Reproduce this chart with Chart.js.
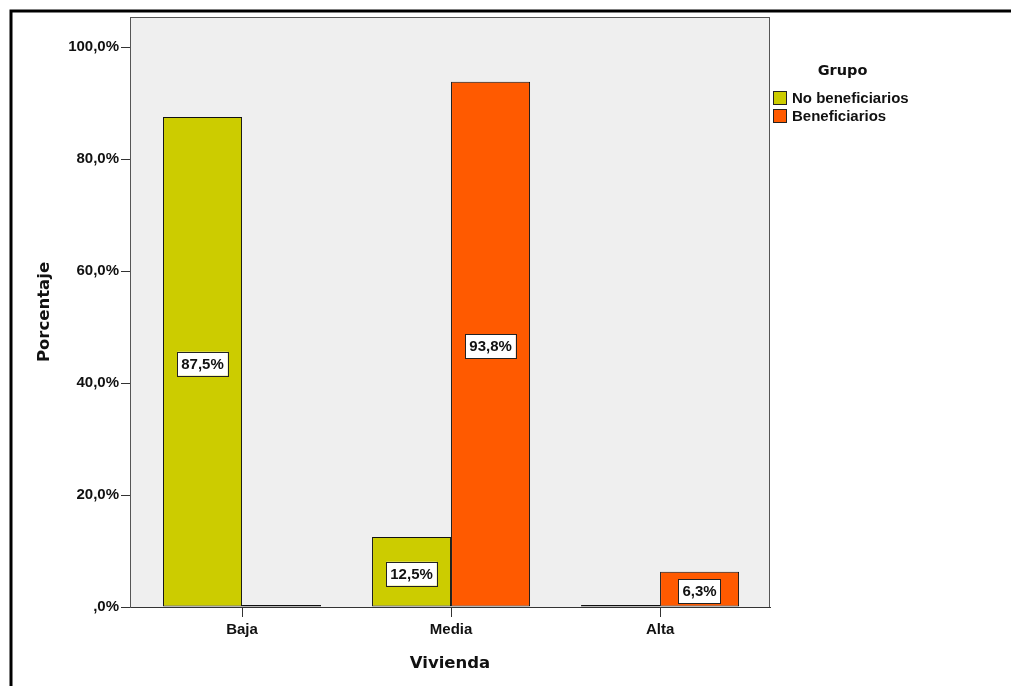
<!DOCTYPE html>
<html>
<head>
<meta charset="utf-8">
<script src="https://cdn.jsdelivr.net/npm/chart.js@4.4.0/dist/chart.umd.min.js"></script>
<style>
  html, body { margin: 0; padding: 0; background: #fff; }
  #wrap { position: relative; width: 1011px; height: 686px; }
  #legend { position: absolute; left: 773px; top: 58px; color: #111; }
  #legend .title { position: absolute; left: 42px; top: 0; width: 55px; text-align: center;
    font: bold 14.5px 'DejaVu Sans', sans-serif; line-height: 24px; }
  #legend .item { position: absolute; left: 0; white-space: nowrap;
    font: bold 15px 'Liberation Sans', Arial, sans-serif; line-height: 17px; }
  #legend .sw { display: inline-block; width: 12px; height: 12px; border: 1px solid #222;
    vertical-align: -2px; margin-right: 5px; }
</style>
</head>
<body>
<div id="wrap">
  <canvas id="chart" width="1011" height="686"></canvas>
  <div id="legend"></div>
</div>
<script>
//------------------ Data ------------------//
const categories = ['Baja', 'Media', 'Alta'];
const seriesNames = ['No beneficiarios', 'Beneficiarios'];
const noBeneficiarios = [87.5, 12.5, 0];
const beneficiarios = [0, 93.8, 6.3];
const yTicks = [0, 20, 40, 60, 80, 100];
const seriesColors = ['#cccc00', '#ff5a00'];

// SPSS style percent label: ",0%" / "87,5%"
function pct(v) {
  if (v === 0) return ',0%';
  return v.toFixed(1).replace('.', ',') + '%';
}

//------------------ Legend ------------------//
const legendDiv = document.getElementById('legend');
legendDiv.innerHTML = '<div class="title">Grupo</div>' + seriesNames.map((name, i) =>
  `<div class="item" style="top:${31 + i * 18}px"><span class="sw" style="background:${seriesColors[i]}"></span>${name}</div>`
).join('');

//------------------ Plugins ------------------//
const frame = {
  id: 'frame',
  beforeDraw(chart) {
    const ctx = chart.ctx;
    const a = chart.chartArea;
    ctx.save();
    ctx.fillStyle = '#fff';
    ctx.fillRect(0, 0, chart.width, chart.height);
    // outer black border (top + left only visible)
    ctx.strokeStyle = '#000';
    ctx.lineWidth = 3;
    ctx.beginPath();
    ctx.moveTo(11, chart.height);
    ctx.lineTo(11, 11);
    ctx.lineTo(chart.width, 11);
    ctx.stroke();
    // plot background
    ctx.fillStyle = '#efefef';
    ctx.fillRect(a.left, a.top, a.right - a.left, a.bottom - a.top);
    ctx.strokeStyle = '#555';
    ctx.lineWidth = 1;
    ctx.strokeRect(a.left + 0.5, a.top + 0.5, a.right - a.left - 1, a.bottom - a.top);
    ctx.restore();
  }
};

const valueBoxes = {
  id: 'valueBoxes',
  afterDatasetsDraw(chart) {
    const ctx = chart.ctx;
    ctx.save();
    ctx.font = 'bold 15px "Liberation Sans", Arial, sans-serif';
    ctx.textAlign = 'center';
    ctx.textBaseline = 'middle';
    chart.data.datasets.forEach((ds, di) => {
      chart.getDatasetMeta(di).data.forEach((bar, i) => {
        const v = ds.data[i].y;
        if (!v) return;
        const txt = pct(v);
        const w = ctx.measureText(txt).width + 8;
        const h = 24;
        const cx = bar.x;
        const cy = (bar.y + bar.base) / 2 + 2;
        ctx.fillStyle = '#fff';
        ctx.fillRect(cx - w / 2, cy - h / 2, w, h);
        ctx.strokeStyle = '#222';
        ctx.lineWidth = 1;
        ctx.strokeRect(Math.round(cx - w / 2) + 0.5, Math.round(cy - h / 2) + 0.5, Math.round(w), h);
        ctx.fillStyle = '#111';
        ctx.fillText(txt, cx, cy + 1);
      });
    });
    ctx.restore();
  }
};

//------------------ Chart ------------------//
const seriesData = [noBeneficiarios, beneficiarios];

const chart = new Chart(document.getElementById('chart'), {
  type: 'bar',
  data: {
    datasets: seriesNames.map((name, s) => ({
      label: name,
      data: seriesData[s].map((v, i) => ({ x: i, y: v })),
      backgroundColor: seriesColors[s],
      borderColor: '#111',
      borderWidth: 1,
      borderSkipped: false,
      minBarLength: 2,
      categoryPercentage: 0.756,
      barPercentage: 1
    }))
  },
  options: {
    responsive: false,
    animation: false,
    layout: { padding: { left: 0, top: 17, right: 241, bottom: 0 } },
    plugins: { legend: { display: false }, tooltip: { enabled: false } },
    scales: {
      x: {
        type: 'linear',
        offset: false,
        min: -0.536,
        max: 2.526,
        afterBuildTicks: s => { s.ticks = categories.map((c, i) => ({ value: i })); },
        afterFit: s => { s.height = 79; },
        ticks: {
          callback: v => categories[v],
          color: '#111',
          font: { family: "'Liberation Sans', Arial, sans-serif", size: 15, weight: 'bold' },
          padding: 4
        },
        grid: { offset: false, drawOnChartArea: false, drawTicks: true, tickLength: 10, color: '#333' },
        border: { display: true, color: '#333', width: 1 },
        title: {
          display: true,
          text: 'Vivienda',
          color: '#111',
          font: { family: "'DejaVu Sans', sans-serif", size: 16.5, weight: 'bold' },
          padding: { top: 0, bottom: 12 }
        }
      },
      y: {
        min: 0,
        max: 105.36,
        afterBuildTicks: s => { s.ticks = yTicks.map(v => ({ value: v })); },
        afterFit: s => { s.width = 130; },
        ticks: {
          callback: v => pct(v),
          color: '#111',
          font: { family: "'Liberation Sans', Arial, sans-serif", size: 15, weight: 'bold' },
          padding: 2
        },
        grid: { drawOnChartArea: false, drawTicks: true, tickLength: 9, color: '#333' },
        border: { display: true, color: '#555', width: 1 },
        title: {
          display: true,
          text: 'Porcentaje',
          color: '#111',
          font: { family: "'DejaVu Sans', sans-serif", size: 16.5, weight: 'bold' },
          padding: { top: 35, bottom: 0 }
        }
      }
    }
  },
  plugins: [frame, valueBoxes]
});
</script>
</body>
</html>
